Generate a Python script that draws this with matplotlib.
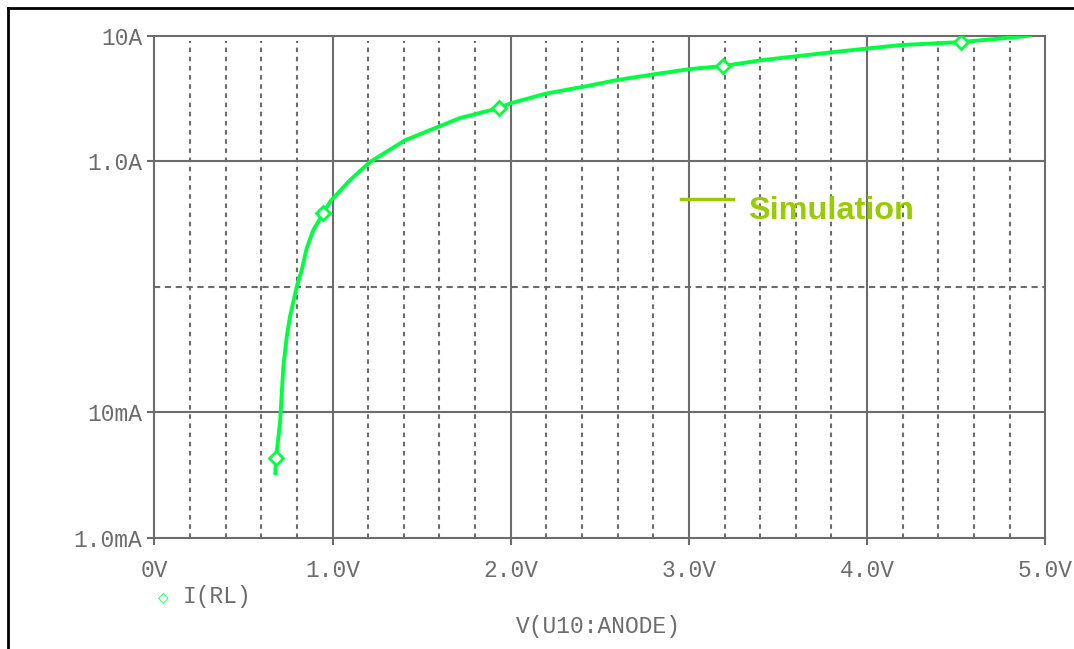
import numpy as np
import matplotlib
matplotlib.use('Agg')
import matplotlib.pyplot as plt
from matplotlib.lines import Line2D

# I(RL) vs V(U10:ANODE)
volts = [0.679, 0.683, 0.705, 0.709, 0.724, 0.743, 0.761, 0.799, 0.827, 0.855,
         0.892, 0.948, 0.986, 1.098, 1.210, 1.407, 1.715, 1.933, 2.0, 2.202,
         2.407, 2.595, 2.800, 3.006, 3.191, 3.410, 3.808, 4.184, 4.527, 4.75, 4.913]
amps = [3.29e-3, 4.31e-3, 8.23e-3, 10.1e-3, 23.1e-3, 40.1e-3, 57.8e-3, 99.6e-3, 0.136, 0.203,
        0.283, 0.385, 0.476, 0.708, 0.986, 1.47, 2.21, 2.65, 2.9, 3.47,
        3.92, 4.43, 4.92, 5.42, 5.73, 6.39, 7.40, 8.41, 8.9, 9.5, 10.0]
marker_volts = [0.683, 0.948, 1.933, 3.191, 4.527]
marker_amps = [4.31e-3, 0.385, 2.65, 5.73, 8.9]

xticks = [0, 1, 2, 3, 4, 5]
xticklabels = ['0V', '1.0V', '2.0V', '3.0V', '4.0V', '5.0V']
yticks = [1e-3, 1e-2, 1, 10]
yticklabels = ['1.0mA', '10mA', '1.0A', '10A']

grey = '#6c6c6c'
green = '#00ff40'
mono = 'Liberation Mono'

fig = plt.figure(figsize=(10.74, 6.49), dpi=100)
ax = fig.add_axes([0.1437, 0.171, 0.8296, 0.774])

ax.set_yscale('log')
ax.set_xlim(0, 5)
ax.set_ylim(1e-3, 10)

# grid: solid at volts / decades, dashed in between
for v in np.arange(0.2, 5.0, 0.2):
    if abs(v - round(v)) < 1e-6:
        ax.axvline(v, color=grey, lw=1.5, zorder=1)
    else:
        ax.axvline(v, ymax=0.99, color=grey, lw=1.5, ls=(0, (2.2, 2.2)), zorder=1)
for a in [1e-2, 1]:
    ax.axhline(a, color=grey, lw=1.5, zorder=1)
ax.axhline(0.1, color=grey, lw=1.5, ls=(0, (3, 2.2)), zorder=1)

ax.plot(volts, amps, color=green, lw=2.8, zorder=3)
ax.plot(marker_volts, marker_amps, ls='none', marker='D', ms=7, mfc='white',
        mec=green, mew=2, zorder=4)

for s in ax.spines.values():
    s.set_color(grey)
    s.set_linewidth(1.5)

ax.set_xticks(xticks)
ax.set_xticklabels(xticklabels)
ax.set_yticks(yticks)
ax.set_yticklabels(yticklabels)
ax.minorticks_off()
ax.tick_params(direction='out', length=5, width=1.5, color=grey, labelcolor=grey,
               labelsize=16.5, pad=3.5)
ax.tick_params(axis='x', pad=10)
for lab in ax.get_xticklabels() + ax.get_yticklabels():
    lab.set_family(mono)

# legend entry and axis title, PSpice style
fig.text(163 / 1074, 1 - 597 / 649, '\u25c7', color=green, fontsize=10,
         ha='center', va='center', family='DejaVu Sans')
fig.text(183 / 1074, 1 - 597 / 649, 'I(RL)', color=grey, fontsize=16.5,
         ha='left', va='center', family=mono)
fig.text(598 / 1074, 1 - 626 / 649, 'V(U10:ANODE)', color=grey, fontsize=16.5,
         ha='center', va='center', family=mono)

# "Simulation" annotation
fig.add_artist(Line2D([681 / 1074, 733 / 1074], [1 - 199 / 649, 1 - 199 / 649],
                      color='#99cc00', lw=2.5))
fig.text(748 / 1074, 1 - 211 / 649, 'Simulation', color='#99cc00', fontsize=23.4,
         fontweight='bold', ha='left', va='center', family='Liberation Sans')

# outer frame (left and top edges visible)
fig.add_artist(Line2D([8 / 1074, 8 / 1074], [0, 1 - 7.5 / 649], color='black', lw=2))
fig.add_artist(Line2D([8 / 1074, 1], [1 - 7.5 / 649, 1 - 7.5 / 649], color='black', lw=2))

fig.savefig('out.png', dpi=100)
